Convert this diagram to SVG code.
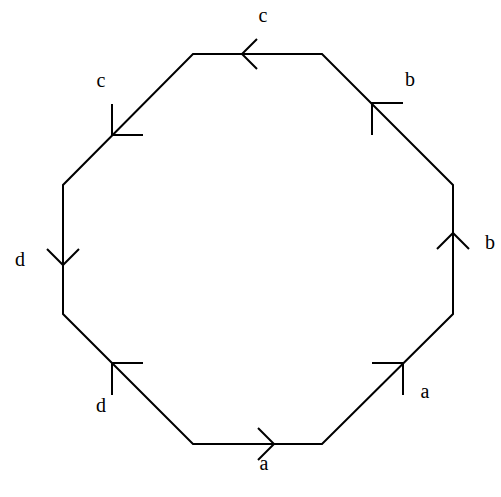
<svg xmlns="http://www.w3.org/2000/svg" width="501" height="497" viewBox="0 0 501 497">
<style>
.e{fill:none;stroke:#000;stroke-width:2;stroke-linejoin:miter}
.h{fill:none;stroke:#000;stroke-width:2}
text{font-family:"Liberation Serif","DejaVu Serif",serif;font-size:20px;fill:#000;text-anchor:middle}
</style>
<rect width="501" height="497" fill="#fff"/>
<g id="connectors">
<polygon class="e" points="193,54 322,54 453,185 453,314 322,444 193,444 63,314 63,185"/>
<g id="arrowheads">
<polyline class="h" points="257,39 242,54 257,69"/>
<polyline class="h" points="403,103 372,103 372,135"/>
<polyline class="h" points="437,249 453,233 469,249"/>
<polyline class="h" points="372,363 403,363 403,395"/>
<polyline class="h" points="258,428 274,444 258,460"/>
<polyline class="h" points="143,363 112,363 112,395"/>
<polyline class="h" points="47,249 63,265 79,249"/>
<polyline class="h" points="112,104 112,135 143,135"/>
</g>
</g>
<g id="labels">
<text x="263" y="22">c</text>
<text x="101" y="87">c</text>
<text x="410" y="86">b</text>
<text x="490" y="249">b</text>
<text x="425" y="398">a</text>
<text x="264" y="470">a</text>
<text x="20" y="266">d</text>
<text x="101" y="412">d</text>
</g>
</svg>
